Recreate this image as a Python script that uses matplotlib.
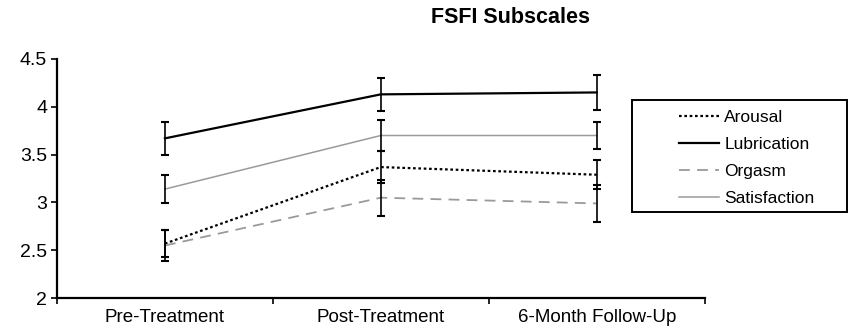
import numpy as np
import matplotlib
matplotlib.use("Agg")
import matplotlib.pyplot as plt
from matplotlib.patches import Rectangle

plt.rcParams['font.family'] = ['Liberation Sans', 'DejaVu Sans']

# 数据
phases = ["Pre-Treatment", "Post-Treatment", "6-Month Follow-Up"]
series_names = ["Arousal", "Lubrication", "Orgasm", "Satisfaction"]
arousal = [2.57, 3.37, 3.29]
arousal_err = [0.14, 0.17, 0.15]
lubrication = [3.67, 4.13, 4.15]
lubrication_err = [0.17, 0.17, 0.18]
orgasm = [2.55, 3.05, 2.99]
orgasm_err = [0.16, 0.19, 0.19]
satisfaction = [3.14, 3.70, 3.70]
satisfaction_err = [0.15, 0.16, 0.14]

styles = {
    "Arousal": dict(color="black", linestyle=(0, (1.2, 1.2)), linewidth=1.6),
    "Lubrication": dict(color="black", linestyle="-", linewidth=1.6),
    "Orgasm": dict(color="#9a9a9a", linestyle=(0, (6, 4)), linewidth=1.3),
    "Satisfaction": dict(color="#9a9a9a", linestyle="-", linewidth=1.1),
}
values = [arousal, lubrication, orgasm, satisfaction]
errors = [arousal_err, lubrication_err, orgasm_err, satisfaction_err]

fig = plt.figure(figsize=(8.5, 3.35), dpi=100)
ax = fig.add_axes([0.067, 0.110, 0.762, 0.714])

x = np.arange(len(phases)) + 0.5
handles = []
for name, v, e in zip(series_names, values, errors):
    ax.errorbar(x, v, yerr=e, fmt="none", ecolor="black", elinewidth=1.2,
                capsize=3, capthick=1.5, zorder=3)
    h, = ax.plot(x, v, label=name, zorder=2, **styles[name])
    handles.append(h)

ax.set_xlim(0, 3)
ax.set_ylim(2, 4.5)
ax.set_yticks([2, 2.5, 3, 3.5, 4, 4.5])
ax.set_yticklabels(["2", "2.5", "3", "3.5", "4", "4.5"])
ax.set_xticks([0, 1, 2, 3])
ax.set_xticklabels([])
ax.set_xticks(x, minor=True)
ax.set_xticklabels(phases, minor=True)
ax.tick_params(axis="x", which="minor", length=0, pad=8, labelsize=13.5)
ax.tick_params(axis="x", which="major", length=4, width=1.2, direction="out")
ax.tick_params(axis="y", length=4, width=1.2, labelsize=14, pad=3)

for s in ["top", "right"]:
    ax.spines[s].set_visible(False)
for s in ["left", "bottom"]:
    ax.spines[s].set_linewidth(1.6)

fig.text(0.601, 0.948, "FSFI Subscales", ha="center", va="center",
         fontsize=15.5, fontweight="bold")

# 图例：无框图例 + 单独画的矩形框
leg = fig.legend(handles=handles, loc="upper left",
                 bbox_to_anchor=(0.799, 0.672), fontsize=12.5,
                 frameon=False, handlelength=2.3,
                 handletextpad=0.3, labelspacing=0.68, borderpad=0,
                 borderaxespad=0)
box = Rectangle((632 / 850, 1 - 212 / 335), 215 / 850, 112 / 335,
                transform=fig.transFigure, fill=False, edgecolor="black",
                linewidth=1.4)
fig.patches.append(box)

fig.savefig("out.png", dpi=100)
